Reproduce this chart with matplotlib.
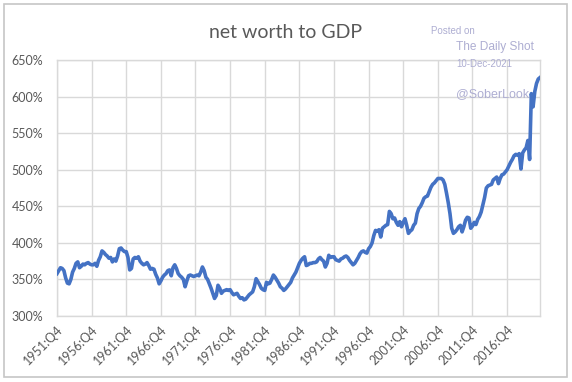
"""Net worth to GDP, quarterly (Excel-style line chart)."""

import matplotlib
matplotlib.use("Agg")
import matplotlib.pyplot as plt
import matplotlib.ticker as mticker
from matplotlib.patches import Rectangle

# ---------------------------------------------------------------------------
# Data: household net worth as % of GDP, 1951:Q4 - 2021:Q3
# ---------------------------------------------------------------------------

FIRST_YEAR = 1951
net_worth_pct = [
    358,                                   # 1951 Q4
    362, 366, 365, 362,                    # 1952
    352, 345, 344, 350,                    # 1953
    360, 365, 372, 374,                    # 1954
    366, 368, 371, 370,                    # 1955
    372, 373, 371, 370,                    # 1956
    370, 372, 368, 376,                    # 1957
    381, 389, 387, 384,                    # 1958
    382, 379, 380, 374,                    # 1959
    378, 375, 382, 392,                    # 1960
    393, 390, 388, 388,                    # 1961
    380, 363, 365, 378,                    # 1962
    380, 379, 381, 375,                    # 1963
    372, 370, 371, 373,                    # 1964
    369, 364, 365, 364,                    # 1965
    357, 352, 344, 348,                    # 1966
    353, 356, 358, 362,                    # 1967
    363, 355, 366, 370,                    # 1968
    365, 358, 355, 353,                    # 1969
    350, 340, 348, 355,                    # 1970
    356, 355, 354, 355,                    # 1971
    356, 355, 360, 367,                    # 1972
    362, 353, 350, 344,                    # 1973
    338, 331, 324, 328,                    # 1974
    342, 338, 331, 334,                    # 1975
    335, 336, 335, 336,                    # 1976
    332, 329, 330, 331,                    # 1977
    327, 324, 325, 322,                    # 1978
    323, 326, 329, 331,                    # 1979
    333, 340, 351, 347,                    # 1980
    343, 338, 336, 335,                    # 1981
    346, 344, 345, 350,                    # 1982
    356, 353, 349, 345,                    # 1983
    340, 338, 335, 337,                    # 1984
    340, 343, 346, 352,                    # 1985
    356, 360, 366, 372,                    # 1986
    376, 379, 381, 369,                    # 1987
    370, 372, 372, 373,                    # 1988
    373, 374, 378, 380,                    # 1989
    377, 375, 367, 372,                    # 1990
    383, 380, 381, 381,                    # 1991
    377, 376, 375, 378,                    # 1992
    379, 381, 382, 380,                    # 1993
    376, 373, 370, 372,                    # 1994
    376, 380, 385, 388,                    # 1995
    389, 387, 386, 392,                    # 1996
    395, 400, 410, 417,                    # 1997
    416, 418, 408, 420,                    # 1998
    422, 424, 425, 443,                    # 1999
    440, 433, 434, 428,                    # 2000
    424, 429, 422, 428,                    # 2001
    433, 424, 413, 416,                    # 2002
    418, 424, 427, 440,                    # 2003
    447, 450, 455, 461,                    # 2004
    463, 464, 470, 476,                    # 2005
    480, 482, 485, 488,                    # 2006
    488, 488, 486, 480,                    # 2007
    468, 455, 440, 420,                    # 2008
    413, 415, 418, 422,                    # 2009
    424, 415, 422, 431,                    # 2010
    435, 434, 420, 423,                    # 2011
    428, 425, 432, 436,                    # 2012
    442, 452, 462, 475,                    # 2013
    478, 479, 480, 486,                    # 2014
    488, 490, 481, 488,                    # 2015
    493, 494, 497, 500,                    # 2016
    505, 510, 514, 519,                    # 2017
    521, 520, 522, 501,                    # 2018
    523, 527, 530, 540,                    # 2019
    514, 604, 586, 607,                    # 2020
    618, 624, 626,                         # 2021 Q1-Q3
]

# Category labels "YYYY:Qn", one per data point
quarter_labels = []
year, qtr = FIRST_YEAR, 4
for _ in net_worth_pct:
    quarter_labels.append(f"{year}:Q{qtr}")
    qtr += 1
    if qtr > 4:
        year, qtr = year + 1, 1

y_ticks = [300, 350, 400, 450, 500, 550, 600, 650]
LABEL_EVERY = 20

# ---------------------------------------------------------------------------
# Style
# ---------------------------------------------------------------------------

LINE_BLUE = "#4472C4"
GRID = "#D9D9D9"
TEXT_GREY = "#595959"
WATERMARK = "#AEAED2"
FONT = ["Lato", "DejaVu Sans"]

plt.rcParams["font.family"] = FONT

fig = plt.figure(figsize=(5.72, 3.82), dpi=100)
ax = fig.add_axes([57 / 572, 1 - 316 / 382, 483 / 572, 256 / 382])

x = list(range(len(net_worth_pct)))
ax.plot(x, net_worth_pct, color=LINE_BLUE, linewidth=2.6,
        solid_joinstyle="round", zorder=3)

ax.set_xlim(0, len(net_worth_pct) - 1)
ax.set_ylim(300, 650)
ax.set_yticks(y_ticks)
ax.yaxis.set_major_formatter(mticker.FuncFormatter(lambda v, _: f"{v:.0f}%"))

tick_pos = x[::LABEL_EVERY]
ax.set_xticks(tick_pos)
ax.set_xticklabels([quarter_labels[i] for i in tick_pos], rotation=45,
                   ha="right", va="top", rotation_mode="anchor")

ax.grid(True, color=GRID, linewidth=1.0, zorder=0)
for side in ax.spines.values():
    side.set_color(GRID)
    side.set_linewidth(1.0)
ax.tick_params(length=0, colors=TEXT_GREY, labelsize=9)
ax.tick_params(axis="y", pad=10)
ax.tick_params(axis="x", pad=5)

fig.text(286 / 572, 1 - 33 / 382, "net worth to GDP", ha="center",
         va="center", fontsize=14, color=TEXT_GREY)

# Watermark
wm = dict(family=["Liberation Sans", "DejaVu Sans"], color=WATERMARK,
          ha="left", va="center")
fig.text(431 / 572, 1 - 31 / 382, "Posted on", fontsize=7, **wm)
fig.text(456 / 572, 1 - 47 / 382, "The Daily Shot", fontsize=8.6, **wm)
fig.text(456 / 572, 1 - 64 / 382, "10-Dec-2021", fontsize=7, **wm)
fig.text(456 / 572, 1 - 94 / 382, "@SoberLook", fontsize=9, **wm)

# Chart-area border
fig.patches.append(Rectangle((4 / 572, 5 / 382), 563 / 572, 373 / 382,
                             transform=fig.transFigure, fill=False,
                             edgecolor="#C6C6C6", linewidth=1.2))

fig.savefig("out.png", dpi=100, facecolor="white")
